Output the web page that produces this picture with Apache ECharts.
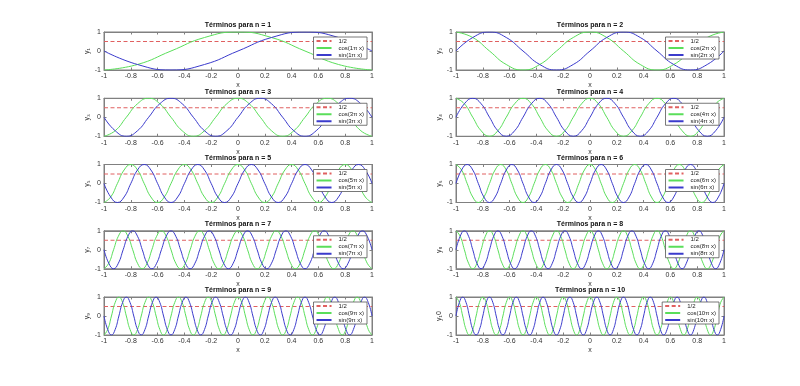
<!DOCTYPE html>
<html><head><meta charset="utf-8">
<script src="https://cdn.jsdelivr.net/npm/echarts@6/dist/echarts.min.js"></script>
<style>html,body{margin:0;padding:0;background:#fff}#c{width:800px;height:386px}</style>
</head><body><div id="c"></div>
<script>
// ---- data ----
const nValues = [1, 2, 3, 4, 5, 6, 7, 8, 9, 10];
const titles = nValues.map(n => 'Términos para n = ' + n);
const yNames = ['y₁', 'y₂', 'y₃', 'y₄', 'y₅', 'y₆', 'y₇', 'y₈', 'y₉', 'y₁0'];
const halfLabel = '1/2';
const halfValues = [0.5, 0.5];
const xTickLabels = ['-1', '-0.8', '-0.6', '-0.4', '-0.2', '0', '0.2', '0.4', '0.6', '0.8', '1'];
const yTickLabels = ['-1', '0', '1'];
// curve heights read every eighth of a period, evenly spaced from x=-1 to x=1
const h = 0.71;
const cos1 = [-1,-h,0,h,1,h,0,-h, -1];
const sin1 = [0,-h,-1,-h,0,h,1,h, 0];
const cos2 = [1,h,0,-h,-1,-h,0,h, 1,h,0,-h,-1,-h,0,h, 1];
const sin2 = [0,h,1,h,0,-h,-1,-h, 0,h,1,h,0,-h,-1,-h, 0];
const cos3 = [-1,-h,0,h,1,h,0,-h, -1,-h,0,h,1,h,0,-h, -1,-h,0,h,1,h,0,-h, -1];
const sin3 = [0,-h,-1,-h,0,h,1,h, 0,-h,-1,-h,0,h,1,h, 0,-h,-1,-h,0,h,1,h, 0];
const cos4 = [1,h,0,-h,-1,-h,0,h, 1,h,0,-h,-1,-h,0,h, 1,h,0,-h,-1,-h,0,h, 1,h,0,-h,-1,-h,0,h, 1];
const sin4 = [0,h,1,h,0,-h,-1,-h, 0,h,1,h,0,-h,-1,-h, 0,h,1,h,0,-h,-1,-h, 0,h,1,h,0,-h,-1,-h, 0];
const cos5 = [-1,-h,0,h,1,h,0,-h, -1,-h,0,h,1,h,0,-h, -1,-h,0,h,1,h,0,-h, -1,-h,0,h,1,h,0,-h, -1,-h,0,h,1,h,0,-h, -1];
const sin5 = [0,-h,-1,-h,0,h,1,h, 0,-h,-1,-h,0,h,1,h, 0,-h,-1,-h,0,h,1,h, 0,-h,-1,-h,0,h,1,h, 0,-h,-1,-h,0,h,1,h, 0];
const cos6 = [1,h,0,-h,-1,-h,0,h, 1,h,0,-h,-1,-h,0,h, 1,h,0,-h,-1,-h,0,h, 1,h,0,-h,-1,-h,0,h, 1,h,0,-h,-1,-h,0,h, 1,h,0,-h,-1,-h,0,h, 1];
const sin6 = [0,h,1,h,0,-h,-1,-h, 0,h,1,h,0,-h,-1,-h, 0,h,1,h,0,-h,-1,-h, 0,h,1,h,0,-h,-1,-h, 0,h,1,h,0,-h,-1,-h, 0,h,1,h,0,-h,-1,-h, 0];
const cos7 = [-1,-h,0,h,1,h,0,-h, -1,-h,0,h,1,h,0,-h, -1,-h,0,h,1,h,0,-h, -1,-h,0,h,1,h,0,-h, -1,-h,0,h,1,h,0,-h, -1,-h,0,h,1,h,0,-h, -1,-h,0,h,1,h,0,-h, -1];
const sin7 = [0,-h,-1,-h,0,h,1,h, 0,-h,-1,-h,0,h,1,h, 0,-h,-1,-h,0,h,1,h, 0,-h,-1,-h,0,h,1,h, 0,-h,-1,-h,0,h,1,h, 0,-h,-1,-h,0,h,1,h, 0,-h,-1,-h,0,h,1,h, 0];
const cos8 = [1,h,0,-h,-1,-h,0,h, 1,h,0,-h,-1,-h,0,h, 1,h,0,-h,-1,-h,0,h, 1,h,0,-h,-1,-h,0,h, 1,h,0,-h,-1,-h,0,h, 1,h,0,-h,-1,-h,0,h, 1,h,0,-h,-1,-h,0,h, 1,h,0,-h,-1,-h,0,h, 1];
const sin8 = [0,h,1,h,0,-h,-1,-h, 0,h,1,h,0,-h,-1,-h, 0,h,1,h,0,-h,-1,-h, 0,h,1,h,0,-h,-1,-h, 0,h,1,h,0,-h,-1,-h, 0,h,1,h,0,-h,-1,-h, 0,h,1,h,0,-h,-1,-h, 0,h,1,h,0,-h,-1,-h, 0];
const cos9 = [-1,-h,0,h,1,h,0,-h, -1,-h,0,h,1,h,0,-h, -1,-h,0,h,1,h,0,-h, -1,-h,0,h,1,h,0,-h, -1,-h,0,h,1,h,0,-h, -1,-h,0,h,1,h,0,-h, -1,-h,0,h,1,h,0,-h, -1,-h,0,h,1,h,0,-h, -1,-h,0,h,1,h,0,-h, -1];
const sin9 = [0,-h,-1,-h,0,h,1,h, 0,-h,-1,-h,0,h,1,h, 0,-h,-1,-h,0,h,1,h, 0,-h,-1,-h,0,h,1,h, 0,-h,-1,-h,0,h,1,h, 0,-h,-1,-h,0,h,1,h, 0,-h,-1,-h,0,h,1,h, 0,-h,-1,-h,0,h,1,h, 0,-h,-1,-h,0,h,1,h, 0];
const cos10 = [1,h,0,-h,-1,-h,0,h, 1,h,0,-h,-1,-h,0,h, 1,h,0,-h,-1,-h,0,h, 1,h,0,-h,-1,-h,0,h, 1,h,0,-h,-1,-h,0,h, 1,h,0,-h,-1,-h,0,h, 1,h,0,-h,-1,-h,0,h, 1,h,0,-h,-1,-h,0,h, 1,h,0,-h,-1,-h,0,h, 1,h,0,-h,-1,-h,0,h, 1];
const sin10 = [0,h,1,h,0,-h,-1,-h, 0,h,1,h,0,-h,-1,-h, 0,h,1,h,0,-h,-1,-h, 0,h,1,h,0,-h,-1,-h, 0,h,1,h,0,-h,-1,-h, 0,h,1,h,0,-h,-1,-h, 0,h,1,h,0,-h,-1,-h, 0,h,1,h,0,-h,-1,-h, 0,h,1,h,0,-h,-1,-h, 0,h,1,h,0,-h,-1,-h, 0];
const cosSeries = [cos1, cos2, cos3, cos4, cos5, cos6, cos7, cos8, cos9, cos10];
const sinSeries = [sin1, sin2, sin3, sin4, sin5, sin6, sin7, sin8, sin9, sin10];
const cosNames = nValues.map(n => 'cos(' + n + 'π x)');
const sinNames = nValues.map(n => 'sin(' + n + 'π x)');

// ---- layout / style ----
const FONT = 'Liberation Sans';
const colLeft = [104, 456], plotW = 268, plotH = 38, top0 = 32, rowStep = 66.25;
const C_GREEN = '#5ade5a', C_BLUE = '#3b3bcc', C_RED = '#e06060', C_AX = '#808080';

function even(arr) { return arr.map((v, k) => [-1 + 2 * k / (arr.length - 1), v]); }

const grid = [], xAxis = [], yAxis = [], series = [], title = [], legend = [];
nValues.forEach((n, i) => {
  const col = i % 2, row = Math.floor(i / 2);
  const left = colLeft[col], top = top0 + row * rowStep;
  grid.push({ left: left, top: top, width: plotW, height: plotH, show: true, borderColor: C_AX, borderWidth: 1, containLabel: false });
  const axBase = { type: 'value', gridIndex: i, min: -1, max: 1, splitLine: { show: false },
    axisLine: { show: true, onZero: false, lineStyle: { color: C_AX, width: 1 } },
    axisTick: { show: true, inside: true, length: 2.5, lineStyle: { color: C_AX } } };
  xAxis.push(Object.assign({}, axBase, { position: 'bottom', interval: 0.2,
    name: 'x', nameLocation: 'middle', nameGap: 12,
    nameTextStyle: { fontFamily: FONT, fontSize: 7, color: '#333' },
    axisLabel: { fontFamily: FONT, fontSize: 7, color: '#333', margin: 3,
      formatter: v => xTickLabels[Math.round((v + 1) / 0.2)] } }));
  xAxis.push(Object.assign({}, axBase, { position: 'top', interval: 0.2, axisLabel: { show: false } }));
  yAxis.push(Object.assign({}, axBase, { position: 'left', interval: 1,
    name: yNames[i], nameLocation: 'middle', nameGap: 10, nameRotate: 90,
    nameTextStyle: { fontFamily: FONT, fontSize: 7, color: '#333' },
    axisLabel: { fontFamily: FONT, fontSize: 7, color: '#333', margin: 3,
      formatter: v => yTickLabels[Math.round(v + 1)] } }));
  yAxis.push(Object.assign({}, axBase, { position: 'right', interval: 1, axisLabel: { show: false } }));
  const xi = 2 * i, yi = 2 * i;
  series.push({ type: 'line', name: halfLabel, xAxisIndex: xi, yAxisIndex: yi, symbol: 'none',
    data: [[-1, halfValues[0]], [1, halfValues[1]]],
    lineStyle: { color: C_RED, width: 1, type: [4, 2.5] }, itemStyle: { color: C_RED } });
  series.push({ type: 'line', name: cosNames[i], xAxisIndex: xi, yAxisIndex: yi, symbol: 'none',
    smooth: 0.5, data: even(cosSeries[i]),
    lineStyle: { color: C_GREEN, width: 1 }, itemStyle: { color: C_GREEN } });
  series.push({ type: 'line', name: sinNames[i], xAxisIndex: xi, yAxisIndex: yi, symbol: 'none',
    smooth: 0.5, data: even(sinSeries[i]),
    lineStyle: { color: C_BLUE, width: 1 }, itemStyle: { color: C_BLUE } });
  title.push({ text: titles[i], left: left + plotW / 2, top: top - 10, textAlign: 'center',
    textStyle: { fontFamily: FONT, fontSize: 7, fontWeight: 'bold', color: '#111' }, padding: 0 });
  legend.push({ orient: 'vertical', right: 800 - (left + plotW) + 5, top: top + 5,
    data: [halfLabel, cosNames[i], sinNames[i]], selectedMode: false,
    itemWidth: 15, itemHeight: 5, itemGap: 1, padding: [1, 3, 1, 2],
    itemStyle: { opacity: 0 },
    backgroundColor: '#fff', borderColor: '#555', borderWidth: 0.8,
    textStyle: { fontFamily: FONT, fontSize: 6, lineHeight: 6, color: '#222', padding: [0, 0, 0, 2] } });
});

const chart = echarts.init(document.getElementById('c'), null, { renderer: 'canvas' });
chart.setOption({ animation: false, backgroundColor: '#fff', grid, xAxis, yAxis, series, title, legend });
</script></body></html>
